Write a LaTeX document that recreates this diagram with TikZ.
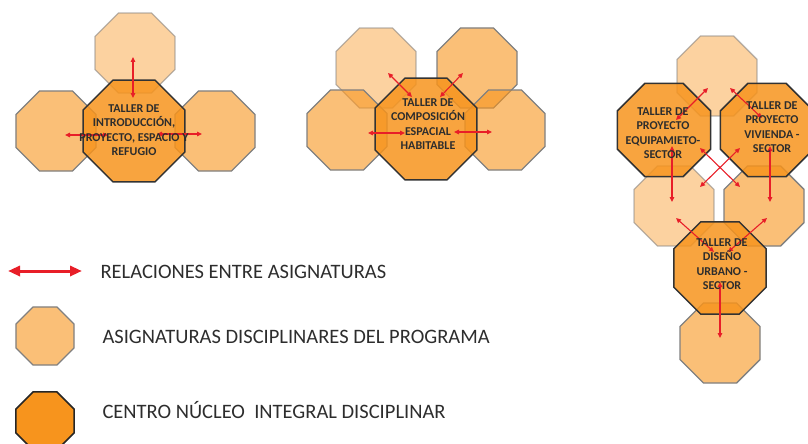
\documentclass[tikz,border=0pt]{standalone}
\usepackage{fontspec}
\setmainfont{Carlito}
\usetikzlibrary{shapes.geometric, arrows.meta, calc}
\definecolor{Naranja}{RGB}{247,148,29}
\definecolor{Texto}{RGB}{45,45,45}
\definecolor{Rojo}{RGB}{232,30,40}

\tikzset{
  octa/.style={regular polygon, regular polygon sides=8, inner sep=0pt, minimum size=#1},
  asig/.style={octa=86.6pt, fill=Naranja, fill opacity=.6, draw=black!50, line width=1.3pt},
  asigclara/.style={asig, fill opacity=.42, draw opacity=.55},
  nucleo/.style={octa=#1, fill=Naranja, fill opacity=.85, draw=black!80, line width=1.5pt},
  rotulo/.style={align=center, font=\fontsize{12}{14.5}\selectfont\bfseries, text=Texto},
  leyenda/.style={anchor=west, font=\fontsize{20.5}{24}\selectfont, text=Texto},
  rel/.style={draw=Rojo, line width=1.1pt, {Triangle[length=5pt,width=4.5pt]}-{Triangle[length=5pt,width=4.5pt]}},
}

\begin{document}
\begin{tikzpicture}[x=1pt, y=-1pt]
            \useasboundingbox (0,0) rectangle (808,444);

            \node[asigclara] (t1) at (135,53) {};
            \node[asig] (l1) at (56,131) {};
            \node[asig] (r1) at (215,131) {};
            \node[nucleo=110pt] (c1) at (134,131) {};
            \draw[rel] ($(t1)+(-2,4)$) -- ($(c1)+(-1,-33)$);
            \draw[rel] ($(l1)+(9,4)$) -- ($(c1)+(-26,4)$);
            \draw[rel] ($(c1)+(23,3)$) -- ($(r1)+(-13,3)$);
            \node[rotulo] (c1t) at ($(c1)+(0,-1)$) {TALLER DE\\INTRODUCCIÓN,\\PROYECTO, ESPACIO Y\\REFUGIO};

            \node[asigclara] (tl2) at (376,68) {};
            \node[asig] (tr2) at (477,68) {};
            \node[asig] (l2) at (347,130) {};
            \node[asig] (r2) at (505,130) {};
            \node[nucleo=110pt] (c2) at (426,129) {};
            \draw[rel] ($(tl2)+(12,5)$) -- ($(c2)+(-14,-32)$);
            \draw[rel] ($(tr2)+(-14,5)$) -- ($(c2)+(14,-32)$);
            \draw[rel] ($(l2)+(21,3)$) -- ($(c2)+(-21,4)$);
            \draw[rel] ($(c2)+(28,3)$) -- ($(r2)+(-13,2)$);
            \node[rotulo] (c2t) at ($(c2)+(2,-5)$) {TALLER DE\\COMPOSICIÓN\\ESPACIAL\\HABITABLE};

            \node[asigclara] (t3) at (717,76) {};
            \node[asigclara] (bl3) at (674,206) {};
            \node[asig] (br3) at (764,206) {};
            \node[asig] (b3) at (720,343) {};
            \node[nucleo=100.7pt] (c3a) at (664,130) {};
            \node[nucleo=100.7pt] (c3b) at (767,130) {};
            \node[nucleo=100pt] (c3c) at (720,268) {};
            \draw[rel] ($(c3a)+(12,-10)$) -- ($(t3)+(-9,12)$);
            \draw[rel] ($(t3)+(13,12)$) -- ($(c3b)+(-5,-12)$);
            \draw[rel] ($(c3a)+(8,16)$) -- ($(bl3)+(-2,-4)$);
            \draw[rel] ($(c3b)+(3,16)$) -- ($(br3)+(6,-4)$);
            \draw[rel] ($(c3a)+(36,18)$) -- ($(br3)+(-24,-19)$);
            \draw[rel] ($(c3b)+(-27,18)$) -- ($(bl3)+(26,-19)$);
            \draw[rel] ($(bl3)+(2,12)$) -- ($(c3c)+(-6,-16)$);
            \draw[rel] ($(br3)+(3,12)$) -- ($(c3c)+(8,-16)$);
            \draw[rel] ($(c3c)+(0,14)$) -- ($(b3)+(0,-5)$);
            \node[rotulo] (c3at) at ($(c3a)+(-1,3)$) {TALLER DE\\PROYECTO\\EQUIPAMIETO-\\SECTOR};
            \node[rotulo] (c3bt) at ($(c3b)+(5,-3)$) {TALLER DE\\PROYECTO\\VIVIENDA -\\SECTOR};
            \node[rotulo] (c3ct) at ($(c3c)+(2,-4)$) {TALLER DE\\DISEÑO\\URBANO -\\SECTOR};

            \coordinate (la) at (8,271);
            \coordinate (lb) at (82,271);
            \draw[draw=Rojo, line width=3pt, {Triangle[length=12pt,width=10pt]}-{Triangle[length=12pt,width=10pt]}] (la) -- (lb);
            \node[leyenda] (lrel) at (97,272) {RELACIONES ENTRE ASIGNATURAS};
            \node[octa=62.8pt, fill=Naranja!60, draw=black!50, line width=1.3pt] (lasig) at (45,336) {};
            \node[leyenda] (lasigt) at (99,337) {ASIGNATURAS DISCIPLINARES DEL PROGRAMA};
            \node[octa=62.8pt, fill=Naranja, draw=black!85, line width=1.5pt] (lnuc) at (45,421) {};
            \node[leyenda] (lnuct) at (99,410) {CENTRO NÚCLEO\ \ INTEGRAL DISCIPLINAR};
        \end{tikzpicture}
\end{document}
